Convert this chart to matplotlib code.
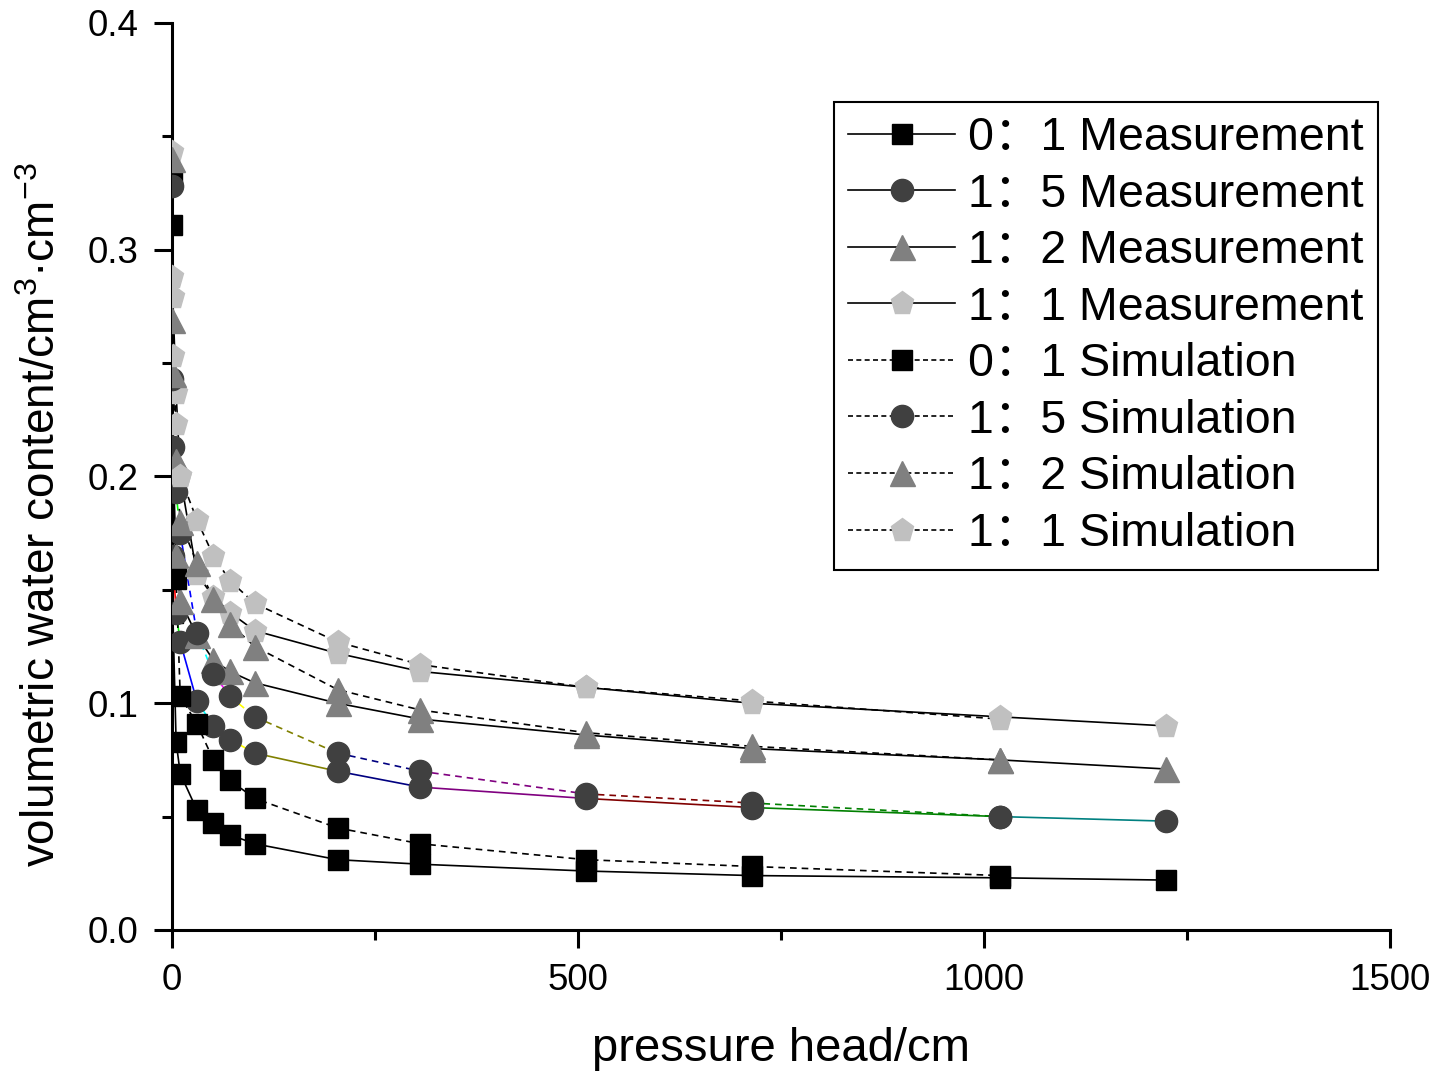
import matplotlib
matplotlib.use("Agg")
import matplotlib.pyplot as plt
from matplotlib.lines import Line2D
from matplotlib.ticker import MultipleLocator

plt.rcParams["font.family"] = ["Liberation Sans", "Noto Sans CJK SC"]
plt.rcParams["mathtext.fontset"] = "custom"
plt.rcParams["mathtext.rm"] = "Liberation Sans"
plt.rcParams["mathtext.it"] = "Liberation Sans:italic"

# ------------------------------------------------------------
# Data (pressure head in cm, volumetric water content)
# ------------------------------------------------------------
head = [0, 1.02, 5.1, 10.2, 30.6, 51, 71.4, 102, 204, 306, 510, 714, 1020, 1224]

meas_01 = [0.331, 0.140, 0.083, 0.069, 0.053, 0.047, 0.042, 0.038, 0.031, 0.029, 0.026, 0.024, 0.023, 0.022]
meas_15 = [0.328, 0.165, 0.140, 0.127, 0.101, 0.090, 0.084, 0.078, 0.070, 0.063, 0.058, 0.054, 0.050, 0.048]
meas_12 = [0.269, 0.209, 0.165, 0.145, 0.130, 0.119, 0.114, 0.109, 0.100, 0.093, 0.086, 0.080, 0.075, 0.071]
meas_11 = [0.343, 0.279, 0.237, 0.200, 0.157, 0.147, 0.140, 0.132, 0.122, 0.114, 0.107, 0.100, 0.094, 0.090]

# simulated curves stop at 1020 cm
sim_01 = [0.311, 0.175, 0.155, 0.103, 0.091, 0.075, 0.066, 0.058, 0.045, 0.038, 0.031, 0.028, 0.024]
sim_15 = [0.243, 0.213, 0.193, 0.175, 0.131, 0.113, 0.103, 0.094, 0.078, 0.070, 0.060, 0.056, 0.050]
sim_12 = [0.340, 0.245, 0.207, 0.180, 0.162, 0.146, 0.135, 0.125, 0.106, 0.097, 0.087, 0.081, 0.075]
sim_11 = [0.288, 0.253, 0.223, 0.200, 0.181, 0.165, 0.154, 0.144, 0.127, 0.117, 0.107, 0.101, 0.093]

ratios = ["0：1", "1：5", "1：2", "1：1"]

# ------------------------------------------------------------
# Styles
# ------------------------------------------------------------
MARKERS = ["s", "o", "^", "p"]
MCOLORS = ["#000000", "#404040", "#808080", "#c0c0c0"]
MSIZES = [14.5, 16, 18, 17]
# Origin-like palette used for the per-segment colouring of the 1:5 curves
SEG_COLORS = ["#000000", "#ff0000", "#00ff00", "#0000ff", "#00ffff", "#ff00ff",
              "#ffff00", "#808000", "#000080", "#800080", "#800000", "#008000",
              "#008080"]

fig = plt.figure(figsize=(14.5, 10.74), dpi=100)
ax = fig.add_axes([0.1186, 0.1341, 0.8400, 0.8445])

meas = [meas_01, meas_15, meas_12, meas_11]
sims = [sim_01, sim_15, sim_12, sim_11]


def draw(series_list, ls):
    for i, y in enumerate(series_list):
        x = head[:len(y)]
        if i == 1:
            for k in range(len(x) - 1):
                ax.plot(x[k:k + 2], y[k:k + 2], color=SEG_COLORS[k],
                        lw=1.2, ls=ls, zorder=2)
        else:
            ax.plot(x, y, color="black", lw=1.2, ls=ls, zorder=2)
        ax.plot(x, y, ls="none", marker=MARKERS[i], ms=MSIZES[i],
                color=MCOLORS[i], mec=MCOLORS[i], zorder=3)


draw(meas, "-")
draw(sims, (0, (4, 3)))

ax.set_xlim(0, 1500)
ax.set_ylim(0, 0.4)
ax.xaxis.set_major_locator(MultipleLocator(500))
ax.xaxis.set_minor_locator(MultipleLocator(250))
ax.yaxis.set_major_locator(MultipleLocator(0.1))
ax.yaxis.set_minor_locator(MultipleLocator(0.05))
ax.set_yticks([0, 0.1, 0.2, 0.3, 0.4])
ax.set_yticklabels(["0.0", "0.1", "0.2", "0.3", "0.4"])

for s in ("top", "right"):
    ax.spines[s].set_visible(False)
for s in ("left", "bottom"):
    ax.spines[s].set_linewidth(2.2)

ax.tick_params(which="major", direction="out", length=13, width=2.2,
               labelsize=26.5, pad=11)
ax.tick_params(which="minor", direction="out", length=7, width=2.2)

ax.set_xlabel("pressure head/cm", fontsize=34)
ax.xaxis.set_label_coords(0.5, -0.107)
ax.set_ylabel("volumetric water content/cm$^{3}$·cm$^{-3}$", fontsize=33)
ax.yaxis.set_label_coords(-0.0878, 0.458)

handles = []
labels = []
for kind, ls in (("Measurement", "-"), ("Simulation", (0, (3, 2)))):
    for i, r in enumerate(ratios):
        handles.append(Line2D([], [], color="black", lw=1.2, ls=ls,
                              marker=MARKERS[i], ms=MSIZES[i],
                              mfc=MCOLORS[i], mec=MCOLORS[i]))
        labels.append(f"{r} {kind}")

leg = fig.legend(handles, labels, loc="upper right",
                 bbox_to_anchor=(1378 / 1450, 1 - 102 / 1074),
                 fontsize=33.5, frameon=True, fancybox=False, framealpha=1,
                 edgecolor="black", handlelength=2.3, handletextpad=0.28,
                 labelspacing=0.27, borderpad=0.3, borderaxespad=0)
leg.get_frame().set_linewidth(1.5)

fig.savefig("out.png", dpi=100)
